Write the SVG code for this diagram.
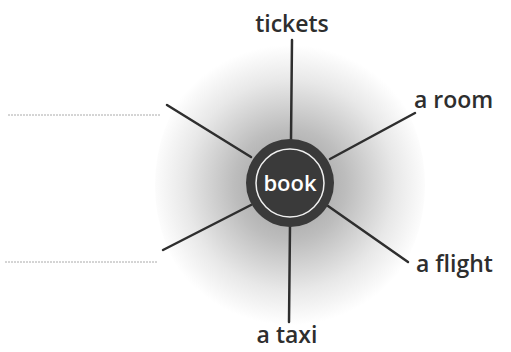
<svg xmlns="http://www.w3.org/2000/svg" width="511" height="352" viewBox="0 0 511 352">
<style>
.lbl{font-family:"Open Sans","Noto Sans",sans-serif;font-weight:600;font-size:23px;fill:#2e2e2e}
.spoke{stroke:#2e2e2e;stroke-width:2.5;stroke-linecap:round}
.blank{stroke:#aaa;stroke-width:1;stroke-dasharray:2 1}
</style>
<defs>
<radialGradient id="glow" cx="290" cy="185" r="140" gradientUnits="userSpaceOnUse">
<stop offset="0" stop-color="#999"/>
<stop offset="0.4" stop-color="#bdbdbd"/>
<stop offset="0.75" stop-color="#e8e8e8"/>
<stop offset="1" stop-color="#ffffff"/>
</radialGradient>
</defs>
<rect width="511" height="352" fill="#fff"/>
<ellipse cx="290" cy="185" rx="135" ry="150" fill="url(#glow)"/>
<g id="connectors">
<line class="spoke" x1="292" y1="40" x2="291" y2="140"/>
<line class="spoke" x1="290" y1="225" x2="289" y2="322"/>
<line class="spoke" x1="330" y1="159" x2="415" y2="113"/>
<line class="spoke" x1="328" y1="206" x2="408" y2="262"/>
<line class="spoke" x1="167" y1="105" x2="251" y2="157"/>
<line class="spoke" x1="251" y1="205" x2="163" y2="250"/>
<line class="blank" x1="8" y1="115" x2="160" y2="115"/>
<line class="blank" x1="5" y1="262" x2="157" y2="262"/>
</g>
<g id="center">
<circle cx="290" cy="183" r="44" fill="#3a3a3a"/>
<circle cx="290" cy="183" r="34" fill="none" stroke="#f0f0f0" stroke-width="1.5"/>
<text x="290" y="191" text-anchor="middle" font-family="'Open Sans','Noto Sans',sans-serif" font-weight="600" font-size="22" fill="#fff">book</text>
</g>
<g id="tickets"><text class="lbl" x="292" y="32" text-anchor="middle">tickets</text></g>
<g id="room"><text class="lbl" x="414" y="108">a room</text></g>
<g id="flight"><text class="lbl" x="416" y="272">a flight</text></g>
<g id="taxi"><text class="lbl" x="287" y="343" text-anchor="middle">a taxi</text></g>
</svg>
